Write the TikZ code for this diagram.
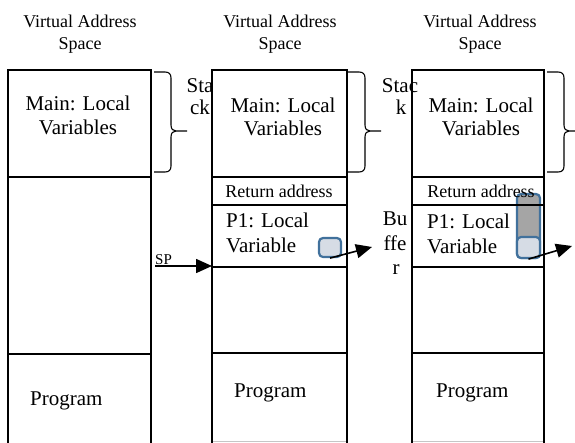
\documentclass[tikz,border=0pt]{standalone}
\usepackage{fontspec}
\setmainfont{Liberation Serif}
\usetikzlibrary{arrows.meta}

\definecolor{cellblue}{HTML}{41719C}
\definecolor{celllight}{HTML}{D6DCE5}
\definecolor{cellgray}{HTML}{A5A5A5}

\tikzset{
  stackbrace/.pic={
    \draw[bracestyle] (0,0) -- (11,0) .. controls (15,0) and (17,2) .. (17,6)
      -- (17,53) .. controls (17,57) and (19,59) .. (22,59) -- (33,59);
    \draw[bracestyle] (22,59) .. controls (19,59) and (17,61) .. (17,65)
      -- (17,94) .. controls (17,98) and (15,100) .. (11,100) -- (0,100);
  }
}

\begin{document}
\begin{tikzpicture}[x=1pt,y=-1pt,
  wall/.style={line width=2.3pt, line join=miter},
  sepline/.style={line width=2.3pt},
  txt/.style={inner sep=0pt, anchor=base, font=\fontsize{21}{24}\selectfont},
  txtl/.style={txt, anchor=base west},
  head/.style={inner sep=0pt, anchor=base, font=\fontsize{18}{21}\selectfont},
  bracestyle/.style={line width=1.1pt},
  ptr/.style={line width=1.6pt, -{Triangle[length=16pt,width=14pt]}},
  cell/.style={draw=cellblue, line width=2.2pt, rounded corners=4pt, inner sep=0pt}
]
\useasboundingbox (0,0) rectangle (575,442);
\clip (0,0) rectangle (575,442);

% column headings
\foreach \cx/\n in {80/a,280/b,480/c}{
  \node[head] (vas\n) at (\cx,27) {Virtual Address};
  \node[head] (sp\n) at (\cx,49) {Space};
}

% side labels (set before the column walls, which overlap them)
\node[txt] (stkA1) at (200,92) {Sta};
\node[txt] (stkA2) at (200,114) {ck};
\node[txt] (stkB1) at (400,92) {Stac};
\node[txt] (stkB2) at (401,114) {k};
\node[txt] (buf1) at (395,225) {Bu};
\node[txt] (buf2) at (395,250) {ffe};
\node[txt] (buf3) at (396,274) {r};

% buffer cells
\node[cell, fill=celllight, minimum width=22pt, minimum height=19pt] (sq2) at (330,247.5) {};
\node[cell, fill=cellgray, minimum width=23pt, minimum height=64pt] (tall3) at (528.5,226) {};
\node[cell, fill=celllight, minimum width=23pt, minimum height=21pt] (sq3) at (528.5,247.5) {};

% faint lower edges of columns 2 and 3
\draw[gray!45, line width=1pt] (212,441.5) -- (347,441.5);
\draw[gray!45, line width=1pt] (412,441.5) -- (544,441.5);

% column 1
\draw[wall] (8,450) -- (8,70) -- (151,70) -- (151,450);
\draw[sepline] (8,177) -- (151,177);
\draw[sepline] (8,354) -- (151,354);

% column 2
\draw[wall] (212,450) -- (212,70) -- (347,70) -- (347,450);
\foreach \yy in {177,205,267,353} \draw[sepline] (212,\yy) -- (347,\yy);

% column 3
\draw[wall] (412,450) -- (412,70) -- (544,70) -- (544,450);
\foreach \yy in {177,205,267,353} \draw[sepline] (412,\yy) -- (544,\yy);

% braces marking the stack
\pic at (154,72) {stackbrace};
\pic at (348,72) {stackbrace};
\pic at (547,72) {stackbrace};

% column texts
\node[txt] (m1a) at (78,110) {Main: Local};
\node[txt] (m1b) at (78,134) {Variables};
\node[txt] (m2a) at (283,112) {Main: Local};
\node[txt] (m2b) at (283,135) {Variables};
\node[txt] (m3a) at (481,112) {Main: Local};
\node[txt] (m3b) at (481,135) {Variables};

\node[head] (ret2) at (279,197) {Return address};
\node[head] (ret3) at (481,197) {Return address};

\node[txtl] (p2a) at (226,227) {P1: Local};
\node[txtl] (p2b) at (226,252) {Variable};
\node[txtl] (p3a) at (427,228) {P1: Local};
\node[txtl] (p3b) at (427,253) {Variable};

\node[txtl] (prog1) at (30,405) {Program};
\node[txtl] (prog2) at (234,397) {Program};
\node[txtl] (prog3) at (436,397) {Program};

% stack pointer
\node[inner sep=0pt, anchor=base west, font=\fontsize{15}{17}\selectfont] (splbl) at (155,264) {SP};
\coordinate (spstart) at (155,266);
\coordinate (spend) at (212,266);
\draw[ptr] (spstart) -- (spend);

% pointers out of the buffer cells
\coordinate (out2) at (372,247);
\coordinate (out3) at (572,246);
\draw[ptr] (sq2.south) -- (out2);
\draw[ptr] (sq3.south) -- (out3);
\end{tikzpicture}
\end{document}
